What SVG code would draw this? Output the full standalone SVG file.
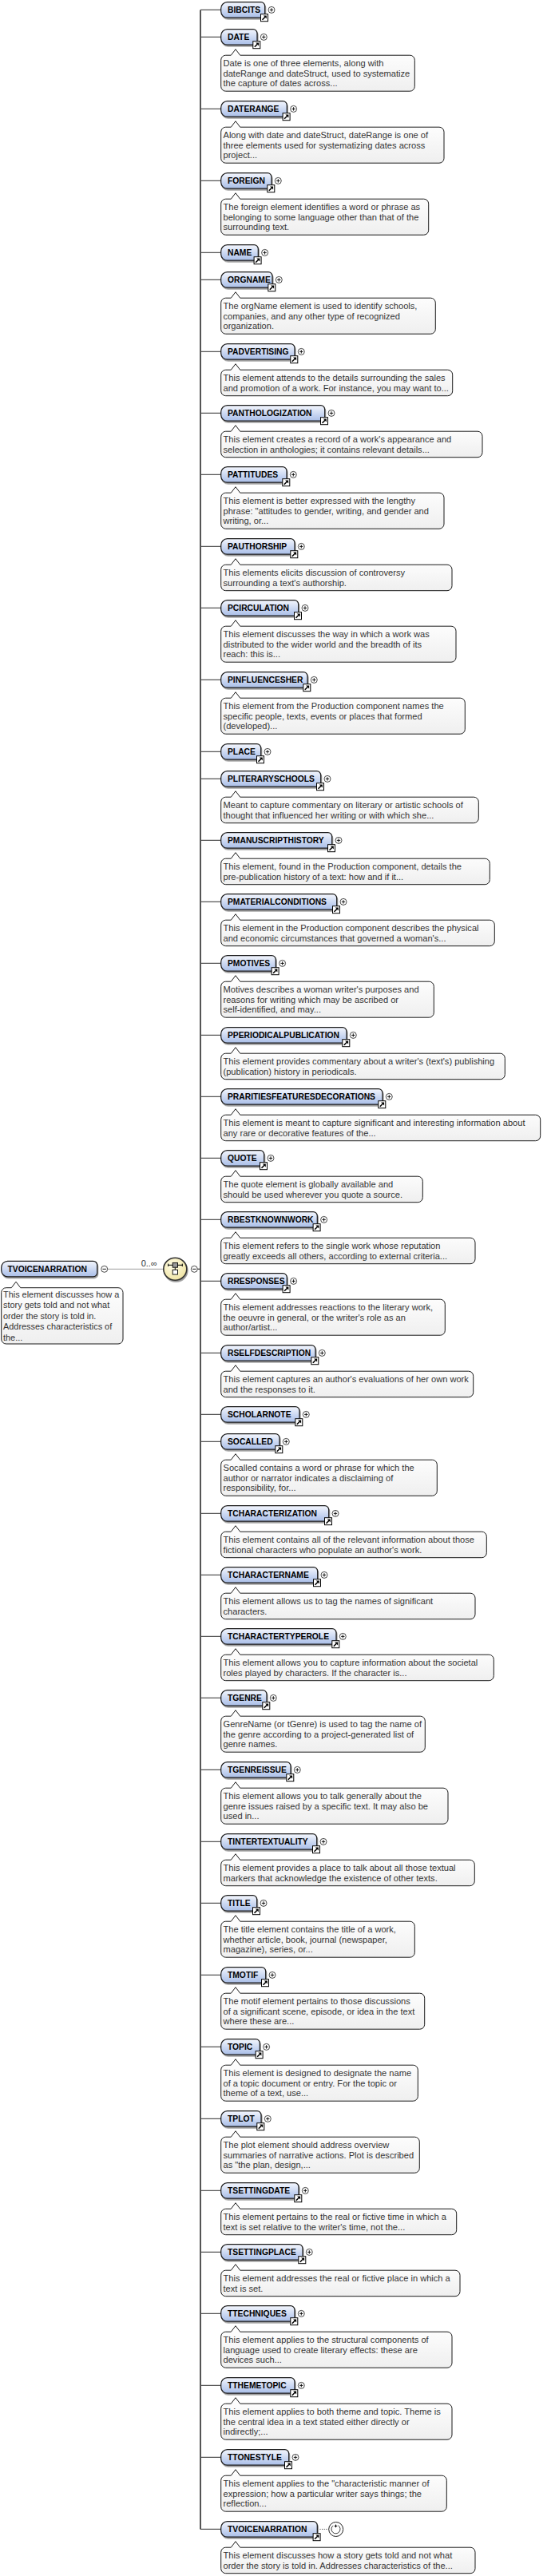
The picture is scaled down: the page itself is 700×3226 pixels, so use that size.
<svg xmlns="http://www.w3.org/2000/svg" xmlns:xlink="http://www.w3.org/1999/xlink" width="700" height="3226" viewBox="0 0 700 3226">
<style>
.pill{fill:url(#pg);stroke:#1a1a1a;stroke-width:1.2;filter:url(#sh)}
.lbl{font-family:"Liberation Sans",Arial,sans-serif;font-weight:bold;font-size:10.3px;fill:#000}
.desc{fill:url(#dg);stroke:#1a1a1a;stroke-width:1}
.dt{font-family:"Liberation Sans",Arial,sans-serif;font-size:11.1px;fill:#333}
.br{stroke:#555;stroke-width:1.3;fill:none}
</style>
<defs>
<linearGradient id="pg" x1="0" y1="0" x2="0" y2="1"><stop offset="0" stop-color="#f3f6fd"/><stop offset="1" stop-color="#a9bee8"/></linearGradient>
<linearGradient id="dg" x1="0" y1="0" x2="0" y2="1"><stop offset="0" stop-color="#ffffff"/><stop offset="1" stop-color="#efefef"/></linearGradient>
<radialGradient id="sg" cx="0.4" cy="0.35" r="0.7"><stop offset="0" stop-color="#fffde8"/><stop offset="1" stop-color="#efe3a0"/></radialGradient>
<filter id="sh" x="-10%" y="-20%" width="130%" height="160%"><feDropShadow dx="1" dy="1.8" stdDeviation="0.5" flood-color="#000" flood-opacity="0.4"/></filter>
<g id="lnk"><rect x="0.5" y="0.5" width="9" height="9" fill="#fff" stroke="#000" stroke-width="1"/><path d="M2.5 7.5L6 4" stroke="#000" stroke-width="1.6"/><path d="M3.8 2.2H7.8V6.2Z" fill="#000"/></g>
<g id="plus"><circle r="4" fill="#fff" stroke="#333" stroke-width="0.9"/><path d="M-2.2 0H2.2M0 -2.2V2.2" stroke="#000" stroke-width="0.9"/></g>
<g id="minus"><circle r="4" fill="#fff" stroke="#333" stroke-width="0.9"/><path d="M-2.2 0H2.2" stroke="#000" stroke-width="0.9"/></g>
</defs>
<rect width="700" height="3226" fill="#fff"/>

<g id="connectors">
<line x1="134.7" y1="1589.3" x2="204.8" y2="1589.3" stroke="#a0a0a0" stroke-width="1"/>
<line x1="247.3" y1="1589.3" x2="251" y2="1589.3" stroke="#444" stroke-width="1.3"/>
<line x1="251" y1="12.45" x2="251" y2="3167.45" stroke="#555" stroke-width="2"/>
<path class="br" d="M251 12.45H277M251 46.45H277M251 136.45H277M251 226.45H277M251 316.45H277M251 350.45H277M251 440.45H277M251 517.45H277M251 594.45H277M251 684.45H277M251 761.45H277M251 851.45H277M251 941.45H277M251 975.45H277M251 1052.45H277M251 1129.45H277M251 1206.45H277M251 1296.45H277M251 1373.45H277M251 1450.45H277M251 1527.45H277M251 1604.45H277M251 1694.45H277M251 1771.45H277M251 1805.45H277M251 1895.45H277M251 1972.45H277M251 2049.45H277M251 2126.45H277M251 2216.45H277M251 2306.45H277M251 2383.45H277M251 2473.45H277M251 2563.45H277M251 2653.45H277M251 2743.45H277M251 2820.45H277M251 2897.45H277M251 2987.45H277M251 3077.45H277M251 3167.45H277"/>
<text x="176.7" y="1585.5" style="font-family:'Liberation Sans',Arial,sans-serif;font-size:11px;fill:#333">0..∞</text>
</g>

<g id="root">
<path class="pill" d="M9.7 1579.3H116.7A5 5 0 0 1 121.7 1584.3V1593.8A5 5 0 0 1 116.7 1598.8H9.7A8 8 0 0 1 1.7 1590.8V1587.3A8 8 0 0 1 9.7 1579.3Z"/>
<text class="lbl" x="9.5" y="1593.1">TVOICENARRATION</text>
<use href="#minus" x="130.7" y="1589.3"/>
<path class="desc" d="M7.7 1612.7H14.3L20 1605.2L25.7 1612.7H148A6 6 0 0 1 154 1618.7V1677A6 6 0 0 1 148 1683H7.7A6 6 0 0 1 1.7 1677V1618.7A6 6 0 0 1 7.7 1612.7Z"/>
<text class="dt" style="font-size:10.9px"><tspan x="4" y="1625">This element discusses how a</tspan><tspan x="4" y="1638.4">story gets told and not what</tspan><tspan x="4" y="1651.8">order the story is told in.</tspan><tspan x="4" y="1665.2">Addresses characteristics of</tspan><tspan x="4" y="1678.6">the...</tspan></text>
</g>

<g id="seq">
<ellipse cx="219.3" cy="1589.3" rx="14.5" ry="14" fill="url(#sg)" stroke="#333" stroke-width="1.6" filter="url(#sh)"/>
<path d="M210.7 1584.3H228.3M210.7 1582.6V1586M228.3 1582.6V1586M219.3 1587.3V1590" stroke="#000" stroke-width="1" fill="none"/>
<rect x="216.2" y="1581.4" width="6.3" height="5.8" fill="#999" stroke="#000" stroke-width="0.9"/>
<rect x="216.2" y="1590.2" width="6.3" height="5.8" fill="#fff" stroke="#000" stroke-width="0.9"/>
<use href="#minus" x="243.3" y="1589.3"/>
</g>

<g id="n01" transform="translate(0,2.7)">
<path class="pill" d="M284.7 0H326.7A5 5 0 0 1 331.7 5V14.5A5 5 0 0 1 326.7 19.5H284.7A8 8 0 0 1 276.7 11.5V8A8 8 0 0 1 284.7 0Z"/>
<text class="lbl" x="285" y="13.6">BIBCITS</text>
<use href="#lnk" x="326" y="14.5"/><use href="#plus" x="340" y="9.7"/>
</g>

<g id="n02" transform="translate(0,36.7)">
<path class="pill" d="M284.7 0H317A5 5 0 0 1 322 5V14.5A5 5 0 0 1 317 19.5H284.7A8 8 0 0 1 276.7 11.5V8A8 8 0 0 1 284.7 0Z"/>
<text class="lbl" x="285" y="13.6">DATE</text>
<use href="#lnk" x="316.3" y="14.5"/><use href="#plus" x="330.3" y="9.7"/>
<path class="desc" d="M282.7 32.5H289.3L295 25L300.7 32.5H513.3A6 6 0 0 1 519.3 38.5V71.5A6 6 0 0 1 513.3 77.5H282.7A6 6 0 0 1 276.7 71.5V38.5A6 6 0 0 1 282.7 32.5Z"/>
<text class="dt"><tspan x="279.5" y="46.2">Date is one of three elements, along with</tspan><tspan x="279.5" y="58.9">dateRange and dateStruct, used to systematize</tspan><tspan x="279.5" y="71.6">the capture of dates across...</tspan></text>
</g>

<g id="n03" transform="translate(0,126.7)">
<path class="pill" d="M284.7 0H354.3A5 5 0 0 1 359.3 5V14.5A5 5 0 0 1 354.3 19.5H284.7A8 8 0 0 1 276.7 11.5V8A8 8 0 0 1 284.7 0Z"/>
<text class="lbl" x="285" y="13.6">DATERANGE</text>
<use href="#lnk" x="353.6" y="14.5"/><use href="#plus" x="367.6" y="9.7"/>
<path class="desc" d="M282.7 32.5H289.3L295 25L300.7 32.5H550A6 6 0 0 1 556 38.5V71.5A6 6 0 0 1 550 77.5H282.7A6 6 0 0 1 276.7 71.5V38.5A6 6 0 0 1 282.7 32.5Z"/>
<text class="dt"><tspan x="279.5" y="46.2">Along with date and dateStruct, dateRange is one of</tspan><tspan x="279.5" y="58.9">three elements used for systematizing dates across</tspan><tspan x="279.5" y="71.6">project...</tspan></text>
</g>

<g id="n04" transform="translate(0,216.7)">
<path class="pill" d="M284.7 0H335A5 5 0 0 1 340 5V14.5A5 5 0 0 1 335 19.5H284.7A8 8 0 0 1 276.7 11.5V8A8 8 0 0 1 284.7 0Z"/>
<text class="lbl" x="285" y="13.6">FOREIGN</text>
<use href="#lnk" x="334.3" y="14.5"/><use href="#plus" x="348.3" y="9.7"/>
<path class="desc" d="M282.7 32.5H289.3L295 25L300.7 32.5H530.7A6 6 0 0 1 536.7 38.5V71.5A6 6 0 0 1 530.7 77.5H282.7A6 6 0 0 1 276.7 71.5V38.5A6 6 0 0 1 282.7 32.5Z"/>
<text class="dt"><tspan x="279.5" y="46.2">The foreign element identifies a word or phrase as</tspan><tspan x="279.5" y="58.9">belonging to some language other than that of the</tspan><tspan x="279.5" y="71.6">surrounding text.</tspan></text>
</g>

<g id="n05" transform="translate(0,306.7)">
<path class="pill" d="M284.7 0H318.3A5 5 0 0 1 323.3 5V14.5A5 5 0 0 1 318.3 19.5H284.7A8 8 0 0 1 276.7 11.5V8A8 8 0 0 1 284.7 0Z"/>
<text class="lbl" x="285" y="13.6">NAME</text>
<use href="#lnk" x="317.6" y="14.5"/><use href="#plus" x="331.6" y="9.7"/>
</g>

<g id="n06" transform="translate(0,340.7)">
<path class="pill" d="M284.7 0H336A5 5 0 0 1 341 5V14.5A5 5 0 0 1 336 19.5H284.7A8 8 0 0 1 276.7 11.5V8A8 8 0 0 1 284.7 0Z"/>
<text class="lbl" x="285" y="13.6">ORGNAME</text>
<use href="#lnk" x="335.3" y="14.5"/><use href="#plus" x="349.3" y="9.7"/>
<path class="desc" d="M282.7 32.5H289.3L295 25L300.7 32.5H539.3A6 6 0 0 1 545.3 38.5V71.5A6 6 0 0 1 539.3 77.5H282.7A6 6 0 0 1 276.7 71.5V38.5A6 6 0 0 1 282.7 32.5Z"/>
<text class="dt"><tspan x="279.5" y="46.2">The orgName element is used to identify schools,</tspan><tspan x="279.5" y="58.9">companies, and any other type of recognized</tspan><tspan x="279.5" y="71.6">organization.</tspan></text>
</g>

<g id="n07" transform="translate(0,430.7)">
<path class="pill" d="M284.7 0H364A5 5 0 0 1 369 5V14.5A5 5 0 0 1 364 19.5H284.7A8 8 0 0 1 276.7 11.5V8A8 8 0 0 1 284.7 0Z"/>
<text class="lbl" x="285" y="13.6">PADVERTISING</text>
<use href="#lnk" x="363.3" y="14.5"/><use href="#plus" x="377.3" y="9.7"/>
<path class="desc" d="M282.7 32.5H289.3L295 25L300.7 32.5H560.7A6 6 0 0 1 566.7 38.5V59A6 6 0 0 1 560.7 65H282.7A6 6 0 0 1 276.7 59V38.5A6 6 0 0 1 282.7 32.5Z"/>
<text class="dt"><tspan x="279.5" y="46.2">This element attends to the details surrounding the sales</tspan><tspan x="279.5" y="58.9">and promotion of a work. For instance, you may want to...</tspan></text>
</g>

<g id="n08" transform="translate(0,507.7)">
<path class="pill" d="M284.7 0H401.7A5 5 0 0 1 406.7 5V14.5A5 5 0 0 1 401.7 19.5H284.7A8 8 0 0 1 276.7 11.5V8A8 8 0 0 1 284.7 0Z"/>
<text class="lbl" x="285" y="13.6">PANTHOLOGIZATION</text>
<use href="#lnk" x="401" y="14.5"/><use href="#plus" x="415" y="9.7"/>
<path class="desc" d="M282.7 32.5H289.3L295 25L300.7 32.5H598A6 6 0 0 1 604 38.5V59A6 6 0 0 1 598 65H282.7A6 6 0 0 1 276.7 59V38.5A6 6 0 0 1 282.7 32.5Z"/>
<text class="dt"><tspan x="279.5" y="46.2">This element creates a record of a work's appearance and</tspan><tspan x="279.5" y="58.9">selection in anthologies; it contains relevant details...</tspan></text>
</g>

<g id="n09" transform="translate(0,584.7)">
<path class="pill" d="M284.7 0H354A5 5 0 0 1 359 5V14.5A5 5 0 0 1 354 19.5H284.7A8 8 0 0 1 276.7 11.5V8A8 8 0 0 1 284.7 0Z"/>
<text class="lbl" x="285" y="13.6">PATTITUDES</text>
<use href="#lnk" x="353.3" y="14.5"/><use href="#plus" x="367.3" y="9.7"/>
<path class="desc" d="M282.7 32.5H289.3L295 25L300.7 32.5H550A6 6 0 0 1 556 38.5V71.5A6 6 0 0 1 550 77.5H282.7A6 6 0 0 1 276.7 71.5V38.5A6 6 0 0 1 282.7 32.5Z"/>
<text class="dt"><tspan x="279.5" y="46.2">This element is better expressed with the lengthy</tspan><tspan x="279.5" y="58.9">phrase: "attitudes to gender, writing, and gender and</tspan><tspan x="279.5" y="71.6">writing, or...</tspan></text>
</g>

<g id="n10" transform="translate(0,674.7)">
<path class="pill" d="M284.7 0H364A5 5 0 0 1 369 5V14.5A5 5 0 0 1 364 19.5H284.7A8 8 0 0 1 276.7 11.5V8A8 8 0 0 1 284.7 0Z"/>
<text class="lbl" x="285" y="13.6">PAUTHORSHIP</text>
<use href="#lnk" x="363.3" y="14.5"/><use href="#plus" x="377.3" y="9.7"/>
<path class="desc" d="M282.7 32.5H289.3L295 25L300.7 32.5H560A6 6 0 0 1 566 38.5V59A6 6 0 0 1 560 65H282.7A6 6 0 0 1 276.7 59V38.5A6 6 0 0 1 282.7 32.5Z"/>
<text class="dt"><tspan x="279.5" y="46.2">This elements elicits discussion of controversy</tspan><tspan x="279.5" y="58.9">surrounding a text's authorship.</tspan></text>
</g>

<g id="n11" transform="translate(0,751.7)">
<path class="pill" d="M284.7 0H368.7A5 5 0 0 1 373.7 5V14.5A5 5 0 0 1 368.7 19.5H284.7A8 8 0 0 1 276.7 11.5V8A8 8 0 0 1 284.7 0Z"/>
<text class="lbl" x="285" y="13.6">PCIRCULATION</text>
<use href="#lnk" x="368" y="14.5"/><use href="#plus" x="382" y="9.7"/>
<path class="desc" d="M282.7 32.5H289.3L295 25L300.7 32.5H565A6 6 0 0 1 571 38.5V71.5A6 6 0 0 1 565 77.5H282.7A6 6 0 0 1 276.7 71.5V38.5A6 6 0 0 1 282.7 32.5Z"/>
<text class="dt"><tspan x="279.5" y="46.2">This element discusses the way in which a work was</tspan><tspan x="279.5" y="58.9">distributed to the wider world and the breadth of its</tspan><tspan x="279.5" y="71.6">reach: this is...</tspan></text>
</g>

<g id="n12" transform="translate(0,841.7)">
<path class="pill" d="M284.7 0H380A5 5 0 0 1 385 5V14.5A5 5 0 0 1 380 19.5H284.7A8 8 0 0 1 276.7 11.5V8A8 8 0 0 1 284.7 0Z"/>
<text class="lbl" x="285" y="13.6">PINFLUENCESHER</text>
<use href="#lnk" x="379.3" y="14.5"/><use href="#plus" x="393.3" y="9.7"/>
<path class="desc" d="M282.7 32.5H289.3L295 25L300.7 32.5H576.3A6 6 0 0 1 582.3 38.5V71.5A6 6 0 0 1 576.3 77.5H282.7A6 6 0 0 1 276.7 71.5V38.5A6 6 0 0 1 282.7 32.5Z"/>
<text class="dt"><tspan x="279.5" y="46.2">This element from the Production component names the</tspan><tspan x="279.5" y="58.9">specific people, texts, events or places that formed</tspan><tspan x="279.5" y="71.6">(developed)...</tspan></text>
</g>

<g id="n13" transform="translate(0,931.7)">
<path class="pill" d="M284.7 0H321.7A5 5 0 0 1 326.7 5V14.5A5 5 0 0 1 321.7 19.5H284.7A8 8 0 0 1 276.7 11.5V8A8 8 0 0 1 284.7 0Z"/>
<text class="lbl" x="285" y="13.6">PLACE</text>
<use href="#lnk" x="321" y="14.5"/><use href="#plus" x="335" y="9.7"/>
</g>

<g id="n14" transform="translate(0,965.7)">
<path class="pill" d="M284.7 0H396.7A5 5 0 0 1 401.7 5V14.5A5 5 0 0 1 396.7 19.5H284.7A8 8 0 0 1 276.7 11.5V8A8 8 0 0 1 284.7 0Z"/>
<text class="lbl" x="285" y="13.6">PLITERARYSCHOOLS</text>
<use href="#lnk" x="396" y="14.5"/><use href="#plus" x="410" y="9.7"/>
<path class="desc" d="M282.7 32.5H289.3L295 25L300.7 32.5H593.3A6 6 0 0 1 599.3 38.5V59A6 6 0 0 1 593.3 65H282.7A6 6 0 0 1 276.7 59V38.5A6 6 0 0 1 282.7 32.5Z"/>
<text class="dt"><tspan x="279.5" y="46.2">Meant to capture commentary on literary or artistic schools of</tspan><tspan x="279.5" y="58.9">thought that influenced her writing or with which she...</tspan></text>
</g>

<g id="n15" transform="translate(0,1042.7)">
<path class="pill" d="M284.7 0H410.7A5 5 0 0 1 415.7 5V14.5A5 5 0 0 1 410.7 19.5H284.7A8 8 0 0 1 276.7 11.5V8A8 8 0 0 1 284.7 0Z"/>
<text class="lbl" x="285" y="13.6">PMANUSCRIPTHISTORY</text>
<use href="#lnk" x="410" y="14.5"/><use href="#plus" x="424" y="9.7"/>
<path class="desc" d="M282.7 32.5H289.3L295 25L300.7 32.5H607.3A6 6 0 0 1 613.3 38.5V59A6 6 0 0 1 607.3 65H282.7A6 6 0 0 1 276.7 59V38.5A6 6 0 0 1 282.7 32.5Z"/>
<text class="dt"><tspan x="279.5" y="46.2">This element, found in the Production component, details the</tspan><tspan x="279.5" y="58.9">pre-publication history of a text: how and if it...</tspan></text>
</g>

<g id="n16" transform="translate(0,1119.7)">
<path class="pill" d="M284.7 0H416.7A5 5 0 0 1 421.7 5V14.5A5 5 0 0 1 416.7 19.5H284.7A8 8 0 0 1 276.7 11.5V8A8 8 0 0 1 284.7 0Z"/>
<text class="lbl" x="285" y="13.6">PMATERIALCONDITIONS</text>
<use href="#lnk" x="416" y="14.5"/><use href="#plus" x="430" y="9.7"/>
<path class="desc" d="M282.7 32.5H289.3L295 25L300.7 32.5H613.3A6 6 0 0 1 619.3 38.5V59A6 6 0 0 1 613.3 65H282.7A6 6 0 0 1 276.7 59V38.5A6 6 0 0 1 282.7 32.5Z"/>
<text class="dt"><tspan x="279.5" y="46.2">This element in the Production component describes the physical</tspan><tspan x="279.5" y="58.9">and economic circumstances that governed a woman's...</tspan></text>
</g>

<g id="n17" transform="translate(0,1196.7)">
<path class="pill" d="M284.7 0H340.3A5 5 0 0 1 345.3 5V14.5A5 5 0 0 1 340.3 19.5H284.7A8 8 0 0 1 276.7 11.5V8A8 8 0 0 1 284.7 0Z"/>
<text class="lbl" x="285" y="13.6">PMOTIVES</text>
<use href="#lnk" x="339.6" y="14.5"/><use href="#plus" x="353.6" y="9.7"/>
<path class="desc" d="M282.7 32.5H289.3L295 25L300.7 32.5H537.3A6 6 0 0 1 543.3 38.5V71.5A6 6 0 0 1 537.3 77.5H282.7A6 6 0 0 1 276.7 71.5V38.5A6 6 0 0 1 282.7 32.5Z"/>
<text class="dt"><tspan x="279.5" y="46.2">Motives describes a woman writer's purposes and</tspan><tspan x="279.5" y="58.9">reasons for writing which may be ascribed or</tspan><tspan x="279.5" y="71.6">self-identified, and may...</tspan></text>
</g>

<g id="n18" transform="translate(0,1286.7)">
<path class="pill" d="M284.7 0H429A5 5 0 0 1 434 5V14.5A5 5 0 0 1 429 19.5H284.7A8 8 0 0 1 276.7 11.5V8A8 8 0 0 1 284.7 0Z"/>
<text class="lbl" x="285" y="13.6">PPERIODICALPUBLICATION</text>
<use href="#lnk" x="428.3" y="14.5"/><use href="#plus" x="442.3" y="9.7"/>
<path class="desc" d="M282.7 32.5H289.3L295 25L300.7 32.5H626.3A6 6 0 0 1 632.3 38.5V59A6 6 0 0 1 626.3 65H282.7A6 6 0 0 1 276.7 59V38.5A6 6 0 0 1 282.7 32.5Z"/>
<text class="dt"><tspan x="279.5" y="46.2">This element provides commentary about a writer's (text's) publishing</tspan><tspan x="279.5" y="58.9">(publication) history in periodicals.</tspan></text>
</g>

<g id="n19" transform="translate(0,1363.7)">
<path class="pill" d="M284.7 0H474A5 5 0 0 1 479 5V14.5A5 5 0 0 1 474 19.5H284.7A8 8 0 0 1 276.7 11.5V8A8 8 0 0 1 284.7 0Z"/>
<text class="lbl" x="285" y="13.6">PRARITIESFEATURESDECORATIONS</text>
<use href="#lnk" x="473.3" y="14.5"/><use href="#plus" x="487.3" y="9.7"/>
<path class="desc" d="M282.7 32.5H289.3L295 25L300.7 32.5H670.7A6 6 0 0 1 676.7 38.5V59A6 6 0 0 1 670.7 65H282.7A6 6 0 0 1 276.7 59V38.5A6 6 0 0 1 282.7 32.5Z"/>
<text class="dt"><tspan x="279.5" y="46.2">This element is meant to capture significant and interesting information about</tspan><tspan x="279.5" y="58.9">any rare or decorative features of the...</tspan></text>
</g>

<g id="n20" transform="translate(0,1440.7)">
<path class="pill" d="M284.7 0H325.7A5 5 0 0 1 330.7 5V14.5A5 5 0 0 1 325.7 19.5H284.7A8 8 0 0 1 276.7 11.5V8A8 8 0 0 1 284.7 0Z"/>
<text class="lbl" x="285" y="13.6">QUOTE</text>
<use href="#lnk" x="325" y="14.5"/><use href="#plus" x="339" y="9.7"/>
<path class="desc" d="M282.7 32.5H289.3L295 25L300.7 32.5H523.3A6 6 0 0 1 529.3 38.5V59A6 6 0 0 1 523.3 65H282.7A6 6 0 0 1 276.7 59V38.5A6 6 0 0 1 282.7 32.5Z"/>
<text class="dt"><tspan x="279.5" y="46.2">The quote element is globally available and</tspan><tspan x="279.5" y="58.9">should be used wherever you quote a source.</tspan></text>
</g>

<g id="n21" transform="translate(0,1517.7)">
<path class="pill" d="M284.7 0H392.3A5 5 0 0 1 397.3 5V14.5A5 5 0 0 1 392.3 19.5H284.7A8 8 0 0 1 276.7 11.5V8A8 8 0 0 1 284.7 0Z"/>
<text class="lbl" x="285" y="13.6">RBESTKNOWNWORK</text>
<use href="#lnk" x="391.6" y="14.5"/><use href="#plus" x="405.6" y="9.7"/>
<path class="desc" d="M282.7 32.5H289.3L295 25L300.7 32.5H589A6 6 0 0 1 595 38.5V59A6 6 0 0 1 589 65H282.7A6 6 0 0 1 276.7 59V38.5A6 6 0 0 1 282.7 32.5Z"/>
<text class="dt"><tspan x="279.5" y="46.2">This element refers to the single work whose reputation</tspan><tspan x="279.5" y="58.9">greatly exceeds all others, according to external criteria...</tspan></text>
</g>

<g id="n22" transform="translate(0,1594.7)">
<path class="pill" d="M284.7 0H354.3A5 5 0 0 1 359.3 5V14.5A5 5 0 0 1 354.3 19.5H284.7A8 8 0 0 1 276.7 11.5V8A8 8 0 0 1 284.7 0Z"/>
<text class="lbl" x="285" y="13.6">RRESPONSES</text>
<use href="#lnk" x="353.6" y="14.5"/><use href="#plus" x="367.6" y="9.7"/>
<path class="desc" d="M282.7 32.5H289.3L295 25L300.7 32.5H551.3A6 6 0 0 1 557.3 38.5V71.5A6 6 0 0 1 551.3 77.5H282.7A6 6 0 0 1 276.7 71.5V38.5A6 6 0 0 1 282.7 32.5Z"/>
<text class="dt"><tspan x="279.5" y="46.2">This element addresses reactions to the literary work,</tspan><tspan x="279.5" y="58.9">the oeuvre in general, or the writer's role as an</tspan><tspan x="279.5" y="71.6">author/artist...</tspan></text>
</g>

<g id="n23" transform="translate(0,1684.7)">
<path class="pill" d="M284.7 0H390A5 5 0 0 1 395 5V14.5A5 5 0 0 1 390 19.5H284.7A8 8 0 0 1 276.7 11.5V8A8 8 0 0 1 284.7 0Z"/>
<text class="lbl" x="285" y="13.6">RSELFDESCRIPTION</text>
<use href="#lnk" x="389.3" y="14.5"/><use href="#plus" x="403.3" y="9.7"/>
<path class="desc" d="M282.7 32.5H289.3L295 25L300.7 32.5H586.7A6 6 0 0 1 592.7 38.5V59A6 6 0 0 1 586.7 65H282.7A6 6 0 0 1 276.7 59V38.5A6 6 0 0 1 282.7 32.5Z"/>
<text class="dt"><tspan x="279.5" y="46.2">This element captures an author's evaluations of her own work</tspan><tspan x="279.5" y="58.9">and the responses to it.</tspan></text>
</g>

<g id="n24" transform="translate(0,1761.7)">
<path class="pill" d="M284.7 0H370A5 5 0 0 1 375 5V14.5A5 5 0 0 1 370 19.5H284.7A8 8 0 0 1 276.7 11.5V8A8 8 0 0 1 284.7 0Z"/>
<text class="lbl" x="285" y="13.6">SCHOLARNOTE</text>
<use href="#lnk" x="369.3" y="14.5"/><use href="#plus" x="383.3" y="9.7"/>
</g>

<g id="n25" transform="translate(0,1795.7)">
<path class="pill" d="M284.7 0H345A5 5 0 0 1 350 5V14.5A5 5 0 0 1 345 19.5H284.7A8 8 0 0 1 276.7 11.5V8A8 8 0 0 1 284.7 0Z"/>
<text class="lbl" x="285" y="13.6">SOCALLED</text>
<use href="#lnk" x="344.3" y="14.5"/><use href="#plus" x="358.3" y="9.7"/>
<path class="desc" d="M282.7 32.5H289.3L295 25L300.7 32.5H541.3A6 6 0 0 1 547.3 38.5V71.5A6 6 0 0 1 541.3 77.5H282.7A6 6 0 0 1 276.7 71.5V38.5A6 6 0 0 1 282.7 32.5Z"/>
<text class="dt"><tspan x="279.5" y="46.2">Socalled contains a word or phrase for which the</tspan><tspan x="279.5" y="58.9">author or narrator indicates a disclaiming of</tspan><tspan x="279.5" y="71.6">responsibility, for...</tspan></text>
</g>

<g id="n26" transform="translate(0,1885.7)">
<path class="pill" d="M284.7 0H406.7A5 5 0 0 1 411.7 5V14.5A5 5 0 0 1 406.7 19.5H284.7A8 8 0 0 1 276.7 11.5V8A8 8 0 0 1 284.7 0Z"/>
<text class="lbl" x="285" y="13.6">TCHARACTERIZATION</text>
<use href="#lnk" x="406" y="14.5"/><use href="#plus" x="420" y="9.7"/>
<path class="desc" d="M282.7 32.5H289.3L295 25L300.7 32.5H603.3A6 6 0 0 1 609.3 38.5V59A6 6 0 0 1 603.3 65H282.7A6 6 0 0 1 276.7 59V38.5A6 6 0 0 1 282.7 32.5Z"/>
<text class="dt"><tspan x="279.5" y="46.2">This element contains all of the relevant information about those</tspan><tspan x="279.5" y="58.9">fictional characters who populate an author's work.</tspan></text>
</g>

<g id="n27" transform="translate(0,1962.7)">
<path class="pill" d="M284.7 0H392.7A5 5 0 0 1 397.7 5V14.5A5 5 0 0 1 392.7 19.5H284.7A8 8 0 0 1 276.7 11.5V8A8 8 0 0 1 284.7 0Z"/>
<text class="lbl" x="285" y="13.6">TCHARACTERNAME</text>
<use href="#lnk" x="392" y="14.5"/><use href="#plus" x="406" y="9.7"/>
<path class="desc" d="M282.7 32.5H289.3L295 25L300.7 32.5H589A6 6 0 0 1 595 38.5V59A6 6 0 0 1 589 65H282.7A6 6 0 0 1 276.7 59V38.5A6 6 0 0 1 282.7 32.5Z"/>
<text class="dt"><tspan x="279.5" y="46.2">This element allows us to tag the names of significant</tspan><tspan x="279.5" y="58.9">characters.</tspan></text>
</g>

<g id="n28" transform="translate(0,2039.7)">
<path class="pill" d="M284.7 0H416A5 5 0 0 1 421 5V14.5A5 5 0 0 1 416 19.5H284.7A8 8 0 0 1 276.7 11.5V8A8 8 0 0 1 284.7 0Z"/>
<text class="lbl" x="285" y="13.6">TCHARACTERTYPEROLE</text>
<use href="#lnk" x="415.3" y="14.5"/><use href="#plus" x="429.3" y="9.7"/>
<path class="desc" d="M282.7 32.5H289.3L295 25L300.7 32.5H612.3A6 6 0 0 1 618.3 38.5V59A6 6 0 0 1 612.3 65H282.7A6 6 0 0 1 276.7 59V38.5A6 6 0 0 1 282.7 32.5Z"/>
<text class="dt"><tspan x="279.5" y="46.2">This element allows you to capture information about the societal</tspan><tspan x="279.5" y="58.9">roles played by characters. If the character is...</tspan></text>
</g>

<g id="n29" transform="translate(0,2116.7)">
<path class="pill" d="M284.7 0H329A5 5 0 0 1 334 5V14.5A5 5 0 0 1 329 19.5H284.7A8 8 0 0 1 276.7 11.5V8A8 8 0 0 1 284.7 0Z"/>
<text class="lbl" x="285" y="13.6">TGENRE</text>
<use href="#lnk" x="328.3" y="14.5"/><use href="#plus" x="342.3" y="9.7"/>
<path class="desc" d="M282.7 32.5H289.3L295 25L300.7 32.5H526.3A6 6 0 0 1 532.3 38.5V71.5A6 6 0 0 1 526.3 77.5H282.7A6 6 0 0 1 276.7 71.5V38.5A6 6 0 0 1 282.7 32.5Z"/>
<text class="dt"><tspan x="279.5" y="46.2">GenreName (or tGenre) is used to tag the name of</tspan><tspan x="279.5" y="58.9">the genre according to a project-generated list of</tspan><tspan x="279.5" y="71.6">genre names.</tspan></text>
</g>

<g id="n30" transform="translate(0,2206.7)">
<path class="pill" d="M284.7 0H359A5 5 0 0 1 364 5V14.5A5 5 0 0 1 359 19.5H284.7A8 8 0 0 1 276.7 11.5V8A8 8 0 0 1 284.7 0Z"/>
<text class="lbl" x="285" y="13.6">TGENREISSUE</text>
<use href="#lnk" x="358.3" y="14.5"/><use href="#plus" x="372.3" y="9.7"/>
<path class="desc" d="M282.7 32.5H289.3L295 25L300.7 32.5H555A6 6 0 0 1 561 38.5V71.5A6 6 0 0 1 555 77.5H282.7A6 6 0 0 1 276.7 71.5V38.5A6 6 0 0 1 282.7 32.5Z"/>
<text class="dt"><tspan x="279.5" y="46.2">This element allows you to talk generally about the</tspan><tspan x="279.5" y="58.9">genre issues raised by a specific text. It may also be</tspan><tspan x="279.5" y="71.6">used in...</tspan></text>
</g>

<g id="n31" transform="translate(0,2296.7)">
<path class="pill" d="M284.7 0H391.7A5 5 0 0 1 396.7 5V14.5A5 5 0 0 1 391.7 19.5H284.7A8 8 0 0 1 276.7 11.5V8A8 8 0 0 1 284.7 0Z"/>
<text class="lbl" x="285" y="13.6">TINTERTEXTUALITY</text>
<use href="#lnk" x="391" y="14.5"/><use href="#plus" x="405" y="9.7"/>
<path class="desc" d="M282.7 32.5H289.3L295 25L300.7 32.5H588.3A6 6 0 0 1 594.3 38.5V59A6 6 0 0 1 588.3 65H282.7A6 6 0 0 1 276.7 59V38.5A6 6 0 0 1 282.7 32.5Z"/>
<text class="dt"><tspan x="279.5" y="46.2">This element provides a place to talk about all those textual</tspan><tspan x="279.5" y="58.9">markers that acknowledge the existence of other texts.</tspan></text>
</g>

<g id="n32" transform="translate(0,2373.7)">
<path class="pill" d="M284.7 0H316.7A5 5 0 0 1 321.7 5V14.5A5 5 0 0 1 316.7 19.5H284.7A8 8 0 0 1 276.7 11.5V8A8 8 0 0 1 284.7 0Z"/>
<text class="lbl" x="285" y="13.6">TITLE</text>
<use href="#lnk" x="316" y="14.5"/><use href="#plus" x="330" y="9.7"/>
<path class="desc" d="M282.7 32.5H289.3L295 25L300.7 32.5H513.3A6 6 0 0 1 519.3 38.5V71.5A6 6 0 0 1 513.3 77.5H282.7A6 6 0 0 1 276.7 71.5V38.5A6 6 0 0 1 282.7 32.5Z"/>
<text class="dt"><tspan x="279.5" y="46.2">The title element contains the title of a work,</tspan><tspan x="279.5" y="58.9">whether article, book, journal (newspaper,</tspan><tspan x="279.5" y="71.6">magazine), series, or...</tspan></text>
</g>

<g id="n33" transform="translate(0,2463.7)">
<path class="pill" d="M284.7 0H327.7A5 5 0 0 1 332.7 5V14.5A5 5 0 0 1 327.7 19.5H284.7A8 8 0 0 1 276.7 11.5V8A8 8 0 0 1 284.7 0Z"/>
<text class="lbl" x="285" y="13.6">TMOTIF</text>
<use href="#lnk" x="327" y="14.5"/><use href="#plus" x="341" y="9.7"/>
<path class="desc" d="M282.7 32.5H289.3L295 25L300.7 32.5H525.7A6 6 0 0 1 531.7 38.5V71.5A6 6 0 0 1 525.7 77.5H282.7A6 6 0 0 1 276.7 71.5V38.5A6 6 0 0 1 282.7 32.5Z"/>
<text class="dt"><tspan x="279.5" y="46.2">The motif element pertains to those discussions</tspan><tspan x="279.5" y="58.9">of a significant scene, episode, or idea in the text</tspan><tspan x="279.5" y="71.6">where these are...</tspan></text>
</g>

<g id="n34" transform="translate(0,2553.7)">
<path class="pill" d="M284.7 0H320.3A5 5 0 0 1 325.3 5V14.5A5 5 0 0 1 320.3 19.5H284.7A8 8 0 0 1 276.7 11.5V8A8 8 0 0 1 284.7 0Z"/>
<text class="lbl" x="285" y="13.6">TOPIC</text>
<use href="#lnk" x="319.6" y="14.5"/><use href="#plus" x="333.6" y="9.7"/>
<path class="desc" d="M282.7 32.5H289.3L295 25L300.7 32.5H517.3A6 6 0 0 1 523.3 38.5V71.5A6 6 0 0 1 517.3 77.5H282.7A6 6 0 0 1 276.7 71.5V38.5A6 6 0 0 1 282.7 32.5Z"/>
<text class="dt"><tspan x="279.5" y="46.2">This element is designed to designate the name</tspan><tspan x="279.5" y="58.9">of a topic document or entry. For the topic or</tspan><tspan x="279.5" y="71.6">theme of a text, use...</tspan></text>
</g>

<g id="n35" transform="translate(0,2643.7)">
<path class="pill" d="M284.7 0H322A5 5 0 0 1 327 5V14.5A5 5 0 0 1 322 19.5H284.7A8 8 0 0 1 276.7 11.5V8A8 8 0 0 1 284.7 0Z"/>
<text class="lbl" x="285" y="13.6">TPLOT</text>
<use href="#lnk" x="321.3" y="14.5"/><use href="#plus" x="335.3" y="9.7"/>
<path class="desc" d="M282.7 32.5H289.3L295 25L300.7 32.5H519.3A6 6 0 0 1 525.3 38.5V71.5A6 6 0 0 1 519.3 77.5H282.7A6 6 0 0 1 276.7 71.5V38.5A6 6 0 0 1 282.7 32.5Z"/>
<text class="dt"><tspan x="279.5" y="46.2">The plot element should address overview</tspan><tspan x="279.5" y="58.9">summaries of narrative actions. Plot is described</tspan><tspan x="279.5" y="71.6">as "the plan, design,...</tspan></text>
</g>

<g id="n36" transform="translate(0,2733.7)">
<path class="pill" d="M284.7 0H369A5 5 0 0 1 374 5V14.5A5 5 0 0 1 369 19.5H284.7A8 8 0 0 1 276.7 11.5V8A8 8 0 0 1 284.7 0Z"/>
<text class="lbl" x="285" y="13.6">TSETTINGDATE</text>
<use href="#lnk" x="368.3" y="14.5"/><use href="#plus" x="382.3" y="9.7"/>
<path class="desc" d="M282.7 32.5H289.3L295 25L300.7 32.5H565.7A6 6 0 0 1 571.7 38.5V59A6 6 0 0 1 565.7 65H282.7A6 6 0 0 1 276.7 59V38.5A6 6 0 0 1 282.7 32.5Z"/>
<text class="dt"><tspan x="279.5" y="46.2">This element pertains to the real or fictive time in which a</tspan><tspan x="279.5" y="58.9">text is set relative to the writer's time, not the...</tspan></text>
</g>

<g id="n37" transform="translate(0,2810.7)">
<path class="pill" d="M284.7 0H374A5 5 0 0 1 379 5V14.5A5 5 0 0 1 374 19.5H284.7A8 8 0 0 1 276.7 11.5V8A8 8 0 0 1 284.7 0Z"/>
<text class="lbl" x="285" y="13.6">TSETTINGPLACE</text>
<use href="#lnk" x="373.3" y="14.5"/><use href="#plus" x="387.3" y="9.7"/>
<path class="desc" d="M282.7 32.5H289.3L295 25L300.7 32.5H570A6 6 0 0 1 576 38.5V59A6 6 0 0 1 570 65H282.7A6 6 0 0 1 276.7 59V38.5A6 6 0 0 1 282.7 32.5Z"/>
<text class="dt"><tspan x="279.5" y="46.2">This element addresses the real or fictive place in which a</tspan><tspan x="279.5" y="58.9">text is set.</tspan></text>
</g>

<g id="n38" transform="translate(0,2887.7)">
<path class="pill" d="M284.7 0H364A5 5 0 0 1 369 5V14.5A5 5 0 0 1 364 19.5H284.7A8 8 0 0 1 276.7 11.5V8A8 8 0 0 1 284.7 0Z"/>
<text class="lbl" x="285" y="13.6">TTECHNIQUES</text>
<use href="#lnk" x="363.3" y="14.5"/><use href="#plus" x="377.3" y="9.7"/>
<path class="desc" d="M282.7 32.5H289.3L295 25L300.7 32.5H560A6 6 0 0 1 566 38.5V71.5A6 6 0 0 1 560 77.5H282.7A6 6 0 0 1 276.7 71.5V38.5A6 6 0 0 1 282.7 32.5Z"/>
<text class="dt"><tspan x="279.5" y="46.2">This element applies to the structural components of</tspan><tspan x="279.5" y="58.9">language used to create literary effects: these are</tspan><tspan x="279.5" y="71.6">devices such...</tspan></text>
</g>

<g id="n39" transform="translate(0,2977.7)">
<path class="pill" d="M284.7 0H364A5 5 0 0 1 369 5V14.5A5 5 0 0 1 364 19.5H284.7A8 8 0 0 1 276.7 11.5V8A8 8 0 0 1 284.7 0Z"/>
<text class="lbl" x="285" y="13.6">TTHEMETOPIC</text>
<use href="#lnk" x="363.3" y="14.5"/><use href="#plus" x="377.3" y="9.7"/>
<path class="desc" d="M282.7 32.5H289.3L295 25L300.7 32.5H560A6 6 0 0 1 566 38.5V71.5A6 6 0 0 1 560 77.5H282.7A6 6 0 0 1 276.7 71.5V38.5A6 6 0 0 1 282.7 32.5Z"/>
<text class="dt"><tspan x="279.5" y="46.2">This element applies to both theme and topic. Theme is</tspan><tspan x="279.5" y="58.9">the central idea in a text stated either directly or</tspan><tspan x="279.5" y="71.6">indirectly;...</tspan></text>
</g>

<g id="n40" transform="translate(0,3067.7)">
<path class="pill" d="M284.7 0H356.7A5 5 0 0 1 361.7 5V14.5A5 5 0 0 1 356.7 19.5H284.7A8 8 0 0 1 276.7 11.5V8A8 8 0 0 1 284.7 0Z"/>
<text class="lbl" x="285" y="13.6">TTONESTYLE</text>
<use href="#lnk" x="356" y="14.5"/><use href="#plus" x="370" y="9.7"/>
<path class="desc" d="M282.7 32.5H289.3L295 25L300.7 32.5H553.3A6 6 0 0 1 559.3 38.5V71.5A6 6 0 0 1 553.3 77.5H282.7A6 6 0 0 1 276.7 71.5V38.5A6 6 0 0 1 282.7 32.5Z"/>
<text class="dt"><tspan x="279.5" y="46.2">This element applies to the "characteristic manner of</tspan><tspan x="279.5" y="58.9">expression; how a particular writer says things; the</tspan><tspan x="279.5" y="71.6">reflection...</tspan></text>
</g>

<g id="n41" transform="translate(0,3157.7)">
<path class="pill" d="M284.7 0H392.3A5 5 0 0 1 397.3 5V14.5A5 5 0 0 1 392.3 19.5H284.7A8 8 0 0 1 276.7 11.5V8A8 8 0 0 1 284.7 0Z"/>
<text class="lbl" x="285" y="13.6">TVOICENARRATION</text>
<use href="#lnk" x="391.6" y="14.5"/>
<path d="M400.5 9.7H411.5" stroke="#333" stroke-width="1" stroke-dasharray="1 1.6"/>
<circle cx="420.7" cy="9.8" r="9" fill="#fff" stroke="#222" stroke-width="1"/>
<path d="M417.2 5.2A5.5 5.5 0 1 0 423.5 5" fill="none" stroke="#222" stroke-width="0.9"/>
<path d="M418.7 5.7H422.3M420.5 3.9V7.5" stroke="#000" stroke-width="1"/>
<path class="desc" d="M282.7 32.5H289.3L295 25L300.7 32.5H589A6 6 0 0 1 595 38.5V59A6 6 0 0 1 589 65H282.7A6 6 0 0 1 276.7 59V38.5A6 6 0 0 1 282.7 32.5Z"/>
<text class="dt"><tspan x="279.5" y="46.2">This element discusses how a story gets told and not what</tspan><tspan x="279.5" y="58.9">order the story is told in. Addresses characteristics of the...</tspan></text>
</g>
</svg>
